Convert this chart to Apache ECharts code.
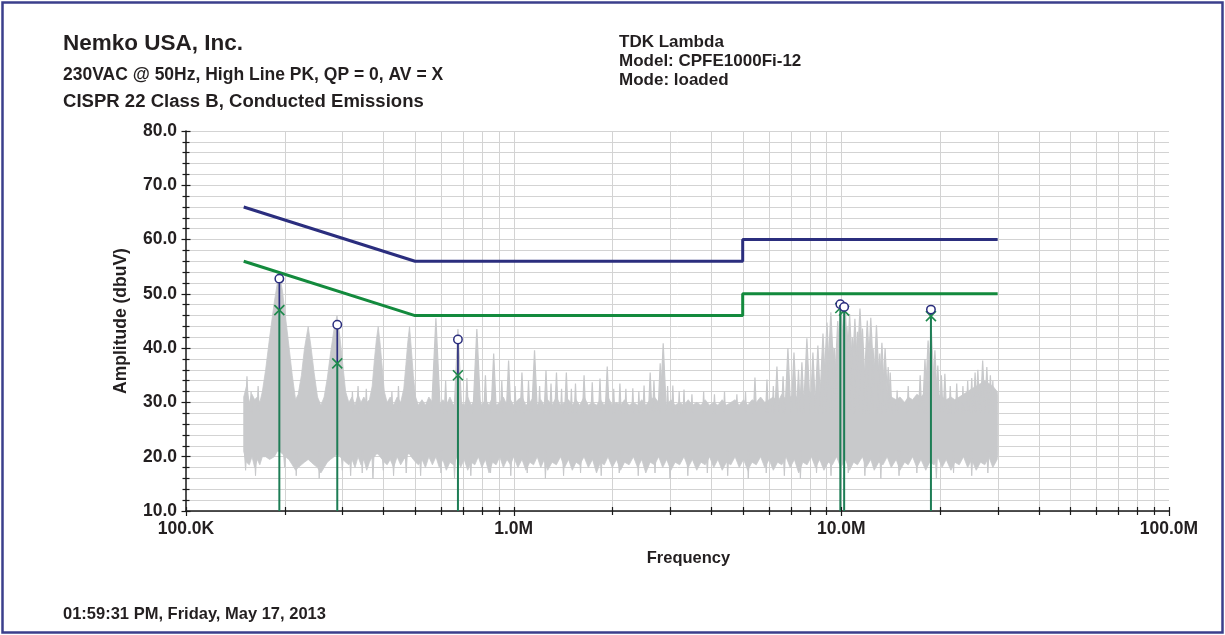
<!DOCTYPE html>
<html><head><meta charset="utf-8">
<script src="https://cdn.jsdelivr.net/npm/echarts@6/dist/echarts.min.js"></script>
<style>html,body{margin:0;padding:0;background:#fff}#c{width:1225px;height:635px}</style>
</head><body><div id="c"></div>
<script>
// ---------- axes ----------
const xTickMHz = [0.1, 1, 10, 100];
const xTickLabels = ['100.0K', '1.0M', '10.0M', '100.0M'];
const xMinorMHz = [0.2,0.3,0.4,0.5,0.6,0.7,0.8,0.9, 2,3,4,5,6,7,8,9, 20,30,40,50,60,70,80,90];
const yMin = 10, yMax = 80, yStep = 10;

// ---------- limit lines ----------
const qpLimitMHz = [0.15, 0.5, 5, 5, 30];
const qpLimit    = [66, 56, 56, 60, 60];
const avLimitMHz = [0.15, 0.5, 5, 5, 30];
const avLimit    = [56, 46, 46, 50, 50];

// ---------- markers ----------
const markerMHz  = [0.1927, 0.2895, 0.676, 9.93, 10.2, 18.77];
const markerPeak = [52.8, 44.3, 41.6, 48.1, 47.6, 47.1];
const markerAvg  = [47.0, 37.2, 35.0, 47.4, 46.9, 45.9];

// ---------- measured trace: noise floor band ----------
const bandMHz = [
 0.150,0.153,0.156,0.159,0.162,0.165,0.168,0.171,0.175,0.180,
 0.186,0.190,0.193,0.197,0.201,0.206,0.211,0.216,0.220,0.225,
 0.230,0.236,0.241,0.246,0.252,0.258,0.264,0.270,0.276,0.283,
 0.289,0.295,0.301,0.307,0.314,0.321,0.328,0.335,0.342,0.349,
 0.356,0.363,0.370,0.376,0.381,0.386,0.391,0.397,0.403,0.411,
 0.420,0.430,0.441,0.452,0.462,0.469,0.475,0.481,0.487,0.494,
 0.502,0.512,
 0.525,0.538,0.551,0.565,0.579,0.593,0.608,0.623,0.639,0.655,
 0.672,0.689,0.706,0.724,0.742,0.761,0.780,0.800,0.820,0.841,
 0.862,0.884,0.907,0.930,0.954,0.978,1.00,1.03,1.06,1.09,
 1.12,1.15,1.18,1.21,1.24,1.27,1.31,1.35,1.39,1.43,
 1.47,1.51,1.55,1.59,1.64,1.69,1.74,1.79,1.84,1.89,
 1.94,2.00,2.06,2.12,2.18,2.25,2.32,2.39,2.46,2.53,
 2.61,2.69,2.77,2.85,2.93,3.02,3.11,3.21,3.31,3.41,
 3.51,3.62,3.73,3.84,3.96,4.08,4.20,4.33,4.46,4.60,
 4.74,4.88,5.03,5.18,5.34,5.50,
 5.67,5.84,6.02,6.20,6.39,6.58,6.78,6.98,7.19,7.41,
 7.63,7.86,8.10,8.34,8.59,8.85,9.12,9.39,9.67,9.96,
 10.3,10.6,10.9,11.2,11.6,11.9,12.3,12.6,13.0,13.4,
 13.8,14.2,14.7,15.1,15.6,16.0,16.5,17.0,17.5,18.1,
 18.6,19.2,19.7,20.3,20.9,21.6,22.2,22.9,23.6,24.3,
 25.0,25.8,26.6,27.4,28.2,29.0,29.9,30.0
];
const bandLow = [
 21,19,18.5,20,18,19.5,18.5,20,20,19.5,
 20,21,21,20.5,20,19.5,18.5,17.5,18,18.5,
 19,19.5,19,18.5,18,17,18,19,19.5,20,
 20.5,20,19.5,19,18.5,19.5,18,20,18.5,19.5,
 17.5,19,20,20,20.5,20.5,20,19.5,19,18.5,
 19.5,18,20,18.5,19.5,20,20.5,20.5,20,19.5,
 19,18.5,
 19.5,18,20,18.5,20,18,19.5,17.5,19,18.5,
 20,18,19.5,17.5,19,18.5,20,18,19.5,17,
 19,18.5,20,18,19.5,18.5,20,18,19.5,17.5,
 19,18.5,20,18,19.5,17.5,19,18.5,20,18,
 19.5,17.5,19,18.5,20,18,19.5,17,19,18.5,
 20,18,19.5,17.5,19,18.5,20,18,19.5,17,
 19,18.5,20,18,19.5,17.5,19,18.5,20,18,
 19.5,17.5,19,18.5,20,18,19.5,17.5,19,18.5,
 20,18,19.5,17.5,19,18.5,
 20,18,19.5,17.5,19,18.5,20,18,19.5,17,
 19,18.5,20,18,19.5,17.5,19,18.5,20,18,
 19.5,17.5,19,18.5,20,18,19.5,17.5,19,18.5,
 20,18,19.5,17.5,19,18.5,20,18,19.5,17.5,
 19,18.5,20,18,19.5,17.5,19,18.5,20,18,
 19.5,17.5,19,18.5,20,18,19.5,21
];
const bandHigh = [
 31,33,30,31.5,30.5,31,30,32,36,42,
 48.5,52,53.5,50.5,46,40.5,35,30.5,31.5,35,
 40,44,40,35.5,31,29.5,31,34.5,39,43.5,
 46,42,37,32,30,31,29.5,31.5,30,31,
 30,30.5,33,38,41.5,44,41,36.5,32,30,
 31,29.5,31,30,32.5,37,41,44,40,35,
 31,29.5,
 30.5,29.5,31,30,31.5,29.5,30.5,29.5,31,29.5,
 30.5,30,29.5,31,29.5,30.5,31,29.5,30.5,29.5,
 31,29.5,30,31,29.5,30.5,29.5,30.5,31,29.5,
 30,31,29.5,30.5,29.5,30.5,29.5,31,29.5,30,
 30.5,29.5,30.5,29.5,31,29.5,30,29.5,30.5,29.5,
 31,29.5,30,29.5,30.5,29.5,30,29.5,30.5,29.5,
 30.5,31,30,31,29.5,30.5,29.5,30,29.5,30.5,
 29.5,30,29.5,30.5,29.5,30,29.5,30.5,29.5,30,
 30.5,29.5,30.5,29.5,30.5,30,
 31,30,30.5,31,30,31.5,30.5,31,31.5,30.5,
 31.5,31,32,31,32,31.5,32.5,31.5,32,32.5,
 32,32.5,32,32.5,31.5,32,31.5,32,31,31.5,
 30.5,31,30.5,31,30,31,30.5,31.5,31,32,
 32.5,32,31.5,31,30.5,31,30.5,31,31.5,32,
 32.5,33,33.5,34,33.5,33,32,31
];

// ---------- measured trace: harmonic spikes above the floor ----------
const spikeMHz = [
 0.1535,0.158,0.166,0.322,0.335,0.355,0.425,0.445,0.579,0.62,
 0.676,0.72,0.772,0.82,0.869,0.92,0.965,1.01,1.06,1.11,
 1.158,1.20,1.255,1.30,1.351,1.40,1.448,1.50,1.544,1.64,
 1.737,1.834,1.93,2.02,2.11,2.20,2.31,2.41,2.50,2.61,
 2.68,2.80,2.86,2.95,3.06,3.20,3.31,3.50,3.80,4.10,
 4.40,4.80,5.10,5.45,5.93,6.20,6.36,6.64,6.87,7.17,
 7.40,7.58,7.85,8.19,8.48,8.79,9.04,9.29,9.43,9.53,
 9.75,9.97,10.26,10.4,10.6,10.8,11.0,11.2,11.4,11.6,
 12.0,12.3,12.5,12.8,13.1,13.3,13.6,13.9,14.1,14.8,
 16.0,17.4,18.0,18.4,18.8,19.3,19.7,20.2,20.7,21.5,
 22.5,23.5,24.3,25.0,25.6,26.1,27.0,27.8,28.5,29.0
];
const spikeTop = [
 34.8,32,33,32,33,32.5,32,33,45.5,34,
 43.5,34.5,43.5,35,39,34,37.7,33,35.5,34,
 39.6,33,35.9,33.5,35.5,32.5,35.5,32.5,33.5,35,
 33.7,34.4,36.6,32.5,33.5,32.5,32.6,32,33.1,35.5,
 34,37.2,40.9,33,33.1,32,32.4,31.5,32,31.5,
 32,31.5,32,34.6,34.2,33,36.6,34.8,40,39.2,
 36,37.4,41.8,39.2,40.5,42.7,44.7,46.6,40.1,40,
 45,49,48.5,44,46.3,42,45.4,43,47.3,43.6,
 45.1,45.6,40,44.2,39,41,40,36.5,35.5,32.2,
 33,35,38,41.4,44,39.6,36.8,35,35.3,33,
 33.5,33,34,34.5,35.5,36,37.7,36.5,35,34
];

// ---------- measured trace: dips below the floor ----------
const dipMHz = [
 0.152,0.163,0.200,0.217,0.255,0.300,0.318,0.345,0.372,0.400,
 0.430,0.470,0.520,0.600,0.660,0.740,0.850,0.980,1.10,1.25,
 1.42,1.60,1.85,2.10,2.40,2.70,3.00,3.40,3.90,4.50,
 5.20,5.90,6.70,7.50,8.40,9.30,10.5,11.8,13.2,15.0,
 17.0,19.5,22.0,25.0,28.0
];
const dipBottom = [
 17.5,16.5,18,16.5,16,17.5,16.5,17,16,17.5,
 16.5,17,16.5,17,16,16.5,17,16.5,17,16,
 16.5,17,16.5,17,16.5,17,16,16.5,17,16.5,
 16,17,16.5,16,17,16.5,17,16.5,16,16.5,
 17,16,17,16.5,17
];

// ---------- styles ----------
const FONT = '"Liberation Sans", Arial, Helvetica, sans-serif';
const TXT = '#231f20';
const GRAY = '#c8c9cb';
const GRID = '#d3d3d3';
const NAVY = '#2b2e7e';
const GREEN = '#138a3d';
const STEM_GREEN = '#1d7d55';
const X_GREEN = '#1e8a4c';
const AXIS = '#1a1a1a';

function xLabel(v) {
  for (let i = 0; i < xTickMHz.length; i++) {
    if (Math.abs(Math.log10(v) - Math.log10(xTickMHz[i])) < 1e-6) return xTickLabels[i];
  }
  return '';
}

const chart = echarts.init(document.getElementById('c'), null, {renderer: 'canvas'});

const option = {
  backgroundColor: '#ffffff',
  animation: false,
  grid: {left: 186, top: 131, width: 983, height: 380, outerBoundsMode: 'none', containLabel: false},
  xAxis: {
    type: 'log', logBase: 10, min: xTickMHz[0], max: xTickMHz[xTickMHz.length - 1],
    axisLine: {show: true, lineStyle: {color: AXIS, width: 1.5}},
    axisTick: {show: false},
    splitLine: {show: false},
    axisLabel: {formatter: xLabel, fontFamily: FONT, fontSize: 17.5, fontWeight: 'bold', color: TXT, margin: 9},
    name: 'Frequency', nameLocation: 'middle', nameGap: 39,
    nameTextStyle: {fontFamily: FONT, fontSize: 16.5, fontWeight: 'bold', color: TXT, padding: [0, 0, 0, 22]}
  },
  yAxis: [{
    type: 'value', min: yMin, max: yMax, interval: yStep, position: 'left',
    axisLine: {show: true, lineStyle: {color: AXIS, width: 1.5}},
    axisTick: {show: true, inside: false, length: 4.5, lineStyle: {color: AXIS, width: 1.2}},
    minorTick: {show: true, splitNumber: 5, length: 3.5, lineStyle: {color: AXIS, width: 1.2}},
    splitLine: {show: true, lineStyle: {color: GRID, width: 1}},
    minorSplitLine: {show: true, lineStyle: {color: GRID, width: 1}},
    axisLabel: {formatter: v => v.toFixed(1), fontFamily: FONT, fontSize: 17.5, fontWeight: 'bold', color: TXT, margin: 9},
    name: 'Amplitude (dbuV)', nameLocation: 'middle', nameGap: 56,
    nameTextStyle: {fontFamily: FONT, fontSize: 17.5, fontWeight: 'bold', color: TXT}
  }, {
    type: 'value', min: yMin, max: yMax, interval: yStep, position: 'left',
    axisLine: {show: false},
    axisTick: {show: true, inside: true, length: 4.5, lineStyle: {color: AXIS, width: 1.2}},
    minorTick: {show: true, splitNumber: 5, length: 3.5, lineStyle: {color: AXIS, width: 1.2}},
    splitLine: {show: false}, minorSplitLine: {show: false},
    axisLabel: {show: false}
  }],
  graphic: [
    {type: 'rect', silent: true, shape: {x: 2.5, y: 2.5, width: 1220, height: 630},
     style: {fill: 'none', stroke: '#3b3f8c', lineWidth: 2.5}},
    {type: 'text', x: 63, y: 44, style: {text: 'Nemko USA, Inc.', fill: TXT, font: 'bold 22.5px ' + FONT, verticalAlign: 'middle'}},
    {type: 'text', x: 63, y: 75, style: {text: '230VAC @ 50Hz, High Line PK, QP = 0, AV = X', fill: TXT, font: 'bold 17.5px ' + FONT, verticalAlign: 'middle'}},
    {type: 'text', x: 63, y: 102, scaleX: 1.06, style: {text: 'CISPR 22 Class B, Conducted Emissions', fill: TXT, font: 'bold 17.5px ' + FONT, verticalAlign: 'middle'}},
    {type: 'text', x: 619, y: 42.5, style: {text: 'TDK Lambda', fill: TXT, font: 'bold 17px ' + FONT, verticalAlign: 'middle'}},
    {type: 'text', x: 619, y: 61.5, style: {text: 'Model: CPFE1000Fi-12', fill: TXT, font: 'bold 17px ' + FONT, verticalAlign: 'middle'}},
    {type: 'text', x: 619, y: 80, style: {text: 'Mode: loaded', fill: TXT, font: 'bold 17px ' + FONT, verticalAlign: 'middle'}},
    {type: 'text', x: 63, y: 614, style: {text: '01:59:31 PM, Friday, May 17, 2013', fill: TXT, font: 'bold 16.5px ' + FONT, verticalAlign: 'middle'}}
  ],
  series: [
    // vertical log grid lines (decades + minors)
    {
      type: 'custom', silent: true, z: 1, clip: false,
      data: xMinorMHz.concat([1, 10]).map(f => [f, yMin]),
      renderItem: (p, api) => {
        const f = api.value(0);
        const b = api.coord([f, yMin]), t = api.coord([f, yMax]);
        const x = Math.round(b[0]) + 0.5;
        return {type: 'line', shape: {x1: x, y1: b[1], x2: x, y2: t[1]}, style: {stroke: GRID, lineWidth: 1}};
      }
    },
    // noise floor band
    {
      type: 'custom', silent: true, z: 3, clip: true,
      data: [[bandMHz[0], bandLow[0]]],
      renderItem: (p, api) => {
        const top = bandMHz.map((f, i) => api.coord([f, bandHigh[i]]));
        const bot = bandMHz.map((f, i) => api.coord([f, bandLow[i]])).reverse();
        return {type: 'polygon', shape: {points: top.concat(bot)}, style: {fill: GRAY, stroke: GRAY, lineWidth: 0.8}};
      }
    },
    // spikes
    {
      type: 'custom', silent: true, z: 3, clip: true,
      data: spikeMHz.map((f, i) => [f, spikeTop[i]]),
      renderItem: (p, api) => {
        const f = api.value(0), t = api.value(1);
        const a = api.coord([f, t]), b = api.coord([f, 28]);
        const hw = Math.max(0.9, (t - 29) * 0.27);
        return {type: 'polygon', shape: {points: [[b[0] - hw, b[1]], [a[0], a[1]], [b[0] + hw, b[1]]]},
                style: {fill: GRAY, stroke: GRAY, lineWidth: 1.2}};
      }
    },
    // dips
    {
      type: 'custom', silent: true, z: 3, clip: true,
      data: dipMHz.map((f, i) => [f, dipBottom[i]]),
      renderItem: (p, api) => {
        const f = api.value(0), v = api.value(1);
        const a = api.coord([f, v]), b = api.coord([f, 21]);
        return {type: 'polygon', shape: {points: [[b[0] - 1.2, b[1]], [a[0], a[1]], [b[0] + 1.2, b[1]]]},
                style: {fill: GRAY, stroke: GRAY, lineWidth: 1}};
      }
    },
    // limit lines
    {
      type: 'line', z: 5, symbol: 'none', silent: true,
      data: qpLimitMHz.map((f, i) => [f, qpLimit[i]]),
      lineStyle: {color: NAVY, width: 3}
    },
    {
      type: 'line', z: 5, symbol: 'none', silent: true,
      data: avLimitMHz.map((f, i) => [f, avLimit[i]]),
      lineStyle: {color: GREEN, width: 3}
    },
    // markers: stems, X (average) and O (peak)
    {
      type: 'custom', silent: true, z: 6, clip: false,
      data: markerMHz.map((f, i) => [f, markerPeak[i]]),
      renderItem: (p, api) => {
        const i = p.dataIndex;
        const f = api.value(0);
        const b = api.coord([f, yMin]), a = api.coord([f, markerAvg[i]]), c = api.coord([f, markerPeak[i]]);
        const x = b[0];
        return {type: 'group', children: [
          {type: 'line', shape: {x1: x, y1: b[1], x2: x, y2: a[1]}, style: {stroke: STEM_GREEN, lineWidth: 2}},
          {type: 'line', shape: {x1: x, y1: a[1], x2: x, y2: c[1]}, style: {stroke: NAVY, lineWidth: 1.7}},
          {type: 'line', shape: {x1: x - 5, y1: a[1] - 5, x2: x + 5, y2: a[1] + 5}, style: {stroke: X_GREEN, lineWidth: 1.6}},
          {type: 'line', shape: {x1: x - 5, y1: a[1] + 5, x2: x + 5, y2: a[1] - 5}, style: {stroke: X_GREEN, lineWidth: 1.6}},
          {type: 'circle', shape: {cx: c[0], cy: c[1], r: 4.2}, style: {fill: '#ffffff', stroke: NAVY, lineWidth: 1.5}}
        ]};
      }
    },
    // x-axis ticks (crossing the axis line)
    {
      type: 'custom', silent: true, z: 7, clip: false,
      data: xTickMHz.concat(xMinorMHz).map(f => [f, yMin]),
      renderItem: (p, api) => {
        const f = api.value(0);
        const b = api.coord([f, yMin]);
        const x = Math.round(b[0]) + 0.5;
        const major = xTickMHz.indexOf(f) >= 0;
        const up = 4, down = major ? 5 : 4;
        return {type: 'line', shape: {x1: x, y1: b[1] - up, x2: x, y2: b[1] + down}, style: {stroke: AXIS, lineWidth: 1.2}};
      }
    }
  ]
};
chart.setOption(option);
</script>
</body></html>
